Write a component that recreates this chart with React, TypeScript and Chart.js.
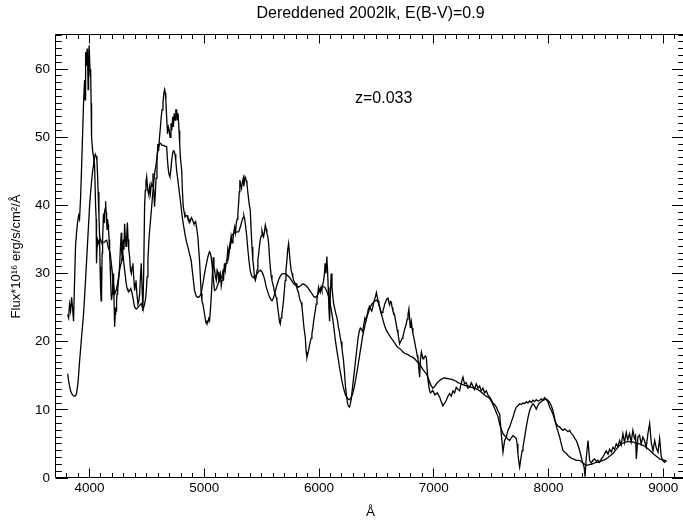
import React, { useEffect, useRef } from "react";
import { Chart, registerables } from "chart.js";

Chart.register(...registerables);

// Observed spectrum of SN 2002lk (wavelength Å, flux)
const observedSpectrum: number[][] = [
  [3809,24],[3818,23.5],[3826,25.5],[3835,24.5],[3844,26.5],[3852,25],[3861,23],[3870,29],[3878,34],[3887,36],
  [3896,37.5],[3905,38.5],[3913,38],[3922,41],[3930,45],[3939,50],[3948,55],[3957,58.4],[3962,55.5],[3966,62.5],
  [3970,61],[3975,60.5],[3979,63],[3983,62],[3988,57],[3992,60],[3997,63.5],[4001,63.5],[4006,59],[4010,60],
  [4014,55],[4018,50],[4027,48],[4036,47],[4044,46],[4053,40],[4058,38],[4061,31.5],[4066,34],[4070,35],
  [4079,34.5],[4088,35],[4092,31],[4096,28],[4101,26],[4105,27],[4110,33],[4114,35],[4122,38.8],[4127,37.5],
  [4131,39],[4136,39.5],[4140,40.6],[4145,39],[4149,37.8],[4153,36.5],[4157,38],[4162,37.2],[4166,36.3],[4171,35],
  [4175,33],[4180,31],[4184,29],[4188,27],[4192,26.1],[4197,27],[4201,28],[4206,30],[4210,29],[4215,25],
  [4219,22.2],[4224,24],[4228,25],[4232,24.5],[4236,26.1],[4240,27],[4245,27.5],[4253,29],[4262,31],[4270,34],
  [4277,36],[4281,33],[4285,32],[4290,34],[4295,35],[4300,33.5],[4306,37.3],[4312,35],[4318,34],[4324,35.5],
  [4330,37.5],[4336,35],[4342,33.5],[4350,32.4],[4357,30.5],[4365,30],[4372,31],[4378,31.5],[4385,29.5],[4393,27.5],
  [4400,28.5],[4405,29],[4413,27],[4422,25.5],[4430,26],[4437,27],[4444,29.5],[4451,31.5],[4458,28],[4465,24.6],
  [4472,30],[4480,40],[4486,42.2],[4492,43.5],[4498,44.2],[4504,43],[4510,42],[4517,41.5],[4524,42.7],[4531,41.8],
  [4538,43.2],[4545,42.8],[4553,44.7],[4560,42],[4567,39.8],[4574,42],[4580,44],[4588,46.5],[4595,49],[4602,48],
  [4610,50],[4618,51.5],[4625,53],[4632,54],[4640,55],[4648,56.5],[4655,57],[4660,56.5],[4665,55.5],[4672,53],
  [4680,50.5],[4687,51.5],[4695,51],[4702,50],[4710,52],[4717,51],[4725,53],[4731,51.5],[4738,53.5],[4745,52.5],
  [4752,54],[4759,54],[4766,52.5],[4772,53.5],[4780,51],[4786,49],[4792,47],[4803,45.2],[4810,42],[4817,39.8],
  [4825,39],[4832,38.3],[4842,38.5],[4850,38.5],[4858,38],[4866,38],[4874,37.5],[4880,37.8],[4888,38.2],[4895,38],
  [4903,37.6],[4910,37.3],[4918,37.4],[4925,37.6],[4935,36.5],[4944,35.4],[4952,33.5],[4959,31.9],[4966,29.5],[4973,27.1],
  [4980,26],[4988,25.5],[4995,24.8],[5002,24.1],[5010,23.2],[5017,22.7],[5024,23],[5031,22.9],[5039,23.4],[5046,23.1],
  [5055,25],[5064,27.5],[5071,30],[5078,32.4],[5084,31],[5090,30.5],[5097,29.5],[5105,29],[5112,30.5],[5120,30.2],
  [5127,28.8],[5133,29.5],[5140,30],[5148,28.2],[5155,29],[5162,30],[5169,29.5],[5176,31.5],[5183,30.5],[5190,31.5],
  [5197,32],[5205,33.5],[5212,32.5],[5220,34],[5227,33.8],[5234,35.4],[5242,34.5],[5250,35],[5257,36],[5265,36.8],
  [5272,36],[5280,37.5],[5287,38],[5293,38.8],[5300,40.5],[5305,42],[5310,43.7],[5318,43],[5325,42.5],[5333,43.5],
  [5340,44],[5345,42.8],[5350,43.5],[5355,44.2],[5360,44],[5366,43.6],[5372,43.2],[5379,42],[5386,41],[5393,40],
  [5401,39.3],[5408,36.5],[5416,33.9],[5423,32],[5430,31],[5437,29.5],[5445,29],[5452,29.5],[5460,30.5],[5467,32],
  [5474,32.9],[5481,34],[5488,34.9],[5495,35.5],[5503,36.3],[5510,35.8],[5517,35.4],[5525,36.2],[5532,37.1],[5539,36.5],
  [5546,35.9],[5553,35.5],[5561,34.4],[5568,32.5],[5575,31],[5582,29.8],[5590,29],[5597,28.5],[5604,28],[5611,27.4],
  [5618,27],[5626,26.5],[5633,26.1],[5640,25],[5648,24],[5655,23],[5662,22.6],[5669,23.5],[5676,24],[5684,25],
  [5691,26.1],[5698,27.5],[5705,29],[5712,30.5],[5720,31.9],[5727,33.5],[5735,34.4],[5742,33],[5750,31.5],[5757,30.5],
  [5765,30],[5771,29.5],[5778,29],[5786,28.8],[5793,28.5],[5800,28.5],[5808,27.8],[5815,27.5],[5822,27.1],[5829,26.5],
  [5836,26],[5844,25.8],[5851,25.1],[5858,24],[5866,22.5],[5873,21.5],[5880,20.7],[5888,18.5],[5895,17.7],[5902,18.2],
  [5910,18.8],[5917,19.5],[5924,20],[5931,20.5],[5938,21.2],[5946,22],[5953,23],[5960,23.8],[5967,24.5],[5975,25.5],
  [5982,26.1],[5989,27],[5996,28],[6003,27.5],[6010,27.2],[6018,28],[6025,27.5],[6032,28.3],[6040,29],[6047,30],
  [6053,31.5],[6060,30],[6068,32.5],[6074,30.5],[6080,28],[6086,25],[6092,23],[6099,27],[6106,30],[6113,28],
  [6121,26.5],[6128,25.5],[6135,25],[6145,24.2],[6155,23.6],[6162,23],[6170,22],[6177,21.5],[6184,20.7],[6192,20],
  [6200,19],[6206,18.2],[6213,17.3],[6222,15.5],[6230,13.5],[6240,12],[6250,10.8],[6258,10.5],[6265,10.4],[6272,10.8],
  [6280,11.5],[6290,13],[6300,14.5],[6310,16],[6320,17.5],[6330,19],[6340,20.5],[6350,21.5],[6360,22],[6370,21.8],
  [6380,21.5],[6390,22.5],[6400,23.5],[6410,23.2],[6420,24],[6430,24.8],[6440,25.2],[6450,24.8],[6460,24.5],[6470,25.2],
  [6480,26],[6490,26.5],[6500,27.2],[6508,26.5],[6515,26],[6522,25.5],[6528,25.1],[6536,24.5],[6543,24.1],[6550,24.3],
  [6557,24.6],[6565,25],[6572,25.5],[6579,25.8],[6586,26.1],[6593,26.3],[6600,26.5],[6608,25.8],[6615,25.4],[6622,25.9],
  [6630,25.8],[6637,25],[6644,24.5],[6652,24.2],[6659,23.9],[6666,23.2],[6673,22.5],[6680,21.8],[6688,21.2],[6695,20.4],
  [6702,19.7],[6710,20],[6717,20.2],[6724,20.5],[6731,20.7],[6738,21.3],[6746,21.8],[6753,22.2],[6760,22.6],[6768,23.3],
  [6775,24],[6783,24.8],[6789,23.5],[6795,22.1],[6800,22.6],[6804,23],[6811,22],[6818,21.2],[6826,20.6],[6833,20],
  [6840,19.3],[6848,18.7],[6855,18],[6862,17.5],[6870,16],[6877,14.8],[6883,17.3],[6892,18.5],[6899,18],[6906,17.5],
  [6913,17.6],[6920,17.8],[6928,17.9],[6935,17.7],[6942,16],[6950,14.3],[6957,13.4],[6964,12.8],[6971,12.5],[6978,12.6],
  [6986,12.7],[6993,12.8],[7010,12.2],[7030,12.5],[7051,11.9],[7065,11.2],[7080,10.6],[7095,11],[7109,11.4],[7123,12],
  [7138,12.4],[7152,12],[7167,12.8],[7181,12.5],[7196,13.3],[7210,13],[7225,12.8],[7240,14],[7254,14.8],[7268,13.8],
  [7283,14],[7297,13.2],[7312,13.3],[7326,14],[7341,13.5],[7355,13],[7370,13.8],[7385,13.2],[7399,13.5],[7414,12.8],
  [7428,13.2],[7443,12.5],[7457,12.8],[7472,12.2],[7486,11.9],[7500,11.5],[7515,11],[7530,10.8],[7545,10.4],[7560,9.8],
  [7574,9.4],[7588,6.5],[7603,3.8],[7617,5.5],[7632,6],[7646,7],[7661,7.5],[7675,8.2],[7690,8.9],[7705,9.8],
  [7719,10.4],[7733,10.6],[7748,10.9],[7762,10.8],[7777,11],[7791,10.9],[7806,11.2],[7820,11],[7835,11.3],[7850,11.1],
  [7864,11.4],[7878,11.2],[7893,11.5],[7908,11.3],[7922,11.4],[7937,11.6],[7950,11.4],[7965,11.8],[7980,11.5],[7994,11.2],
  [8009,10.4],[8024,9.9],[8038,9.4],[8053,8.5],[8067,8],[8082,7.6],[8097,7.5],[8111,7.2],[8126,7],[8140,7.2],
  [8155,7],[8170,6.8],[8184,7],[8199,6.5],[8213,6.3],[8228,5.8],[8242,5.5],[8257,4.8],[8271,4],[8286,3],
  [8300,2.1],[8310,1.6],[8318,0.2],[8329,3],[8344,5.5],[8358,2.6],[8372,2.2],[8387,2.6],[8401,2.8],[8416,2.4],
  [8430,2.6],[8445,2.3],[8460,2.8],[8474,3.1],[8489,3.6],[8503,4],[8518,3.5],[8532,4.2],[8547,3.8],[8561,4.5],
  [8575,4.2],[8590,5],[8604,4.6],[8619,5.5],[8633,4.8],[8648,6.5],[8662,5.2],[8677,6.7],[8690,5.6],[8706,6.5],
  [8720,5.3],[8735,7],[8749,5.8],[8758,6.2],[8765,2.8],[8778,6],[8793,6.3],[8807,5],[8822,6],[8836,5.5],
  [8851,4.5],[8866,6.5],[8881,8],[8895,5.2],[8910,4],[8925,5.5],[8939,4.4],[8954,3.8],[8968,5.8],[8982,3.1],
  [8997,2.5],[9011,2.3],[9026,2.5]
];

// Comparison (template) spectrum (wavelength Å, flux)
const templateSpectrum: number[][] = [
  [3810,15.3],[3818,14.2],[3826,13.5],[3835,12.8],[3844,12.4],[3857,12.1],[3870,12],[3879,12.1],[3887,12.4],[3900,14],
  [3913,17],[3930,20.5],[3948,24],[3962,28],[3975,32],[3988,36],[4001,40],[4010,42],[4018,43.5],[4027,45],
  [4036,46],[4043,47],[4050,47.5],[4058,47.2],[4065,46.5],[4070,44.5],[4075,42],[4082,38.5],[4088,35.5],[4094,35],
  [4100,34.7],[4115,34.6],[4130,34.6],[4140,34.8],[4150,34.9],[4158,34.3],[4165,33.7],[4172,33.5],[4180,33],[4190,31.5],
  [4200,30],[4210,28.2],[4220,27],[4232,27.5],[4245,28.5],[4254,29.5],[4262,30.5],[4270,31.2],[4277,31.5],[4284,32.2],
  [4291,32.7],[4298,31.8],[4306,30.5],[4313,29.5],[4320,28.5],[4328,27.8],[4335,27.5],[4347,27.4],[4360,27.8],[4370,27.2],
  [4378,26.5],[4385,25.8],[4393,25.1],[4407,24.8],[4420,25],[4435,25.3],[4451,25.6],[4458,25.2],[4465,24.8],[4472,25],
  [4480,25.5],[4488,26.3],[4495,27.5],[4502,29.5],[4509,32],[4515,34],[4520,35.5],[4530,37.5],[4540,39.5],[4550,41.5],
  [4560,43.5],[4570,45],[4580,46],[4590,47.3],[4600,48.5],[4610,49],[4620,49.1],[4632,48.8],[4645,48.8],[4658,48.7],
  [4672,48.6],[4680,46.5],[4687,45.2],[4694,44.5],[4701,44.2],[4708,45],[4716,46.6],[4723,47.5],[4730,48],[4737,48],
  [4745,47.5],[4752,46.5],[4760,45],[4768,44],[4775,43],[4782,42],[4790,41],[4800,39.5],[4808,38.3],[4815,37.5],
  [4825,36.5],[4835,35.5],[4846,34.6],[4857,33.9],[4870,33],[4886,31.9],[4900,29.8],[4915,27.5],[4930,26.7],[4944,26.5],
  [4958,26.6],[4973,27.1],[4988,28.5],[5002,30],[5017,31.3],[5031,32.4],[5039,32.9],[5046,33.2],[5053,33],[5060,32.4],
  [5068,31.3],[5075,30],[5082,28.7],[5089,27.5],[5100,27.6],[5110,28],[5120,28.5],[5135,29],[5151,29.5],[5165,30.2],
  [5180,31],[5195,31.7],[5210,32.4],[5218,33.5],[5225,34.5],[5233,35.2],[5240,35.6],[5255,35.9],[5270,36],[5285,36.1],
  [5300,36.1],[5310,36.6],[5320,37.2],[5330,37.8],[5338,38.2],[5345,38.5],[5352,38],[5360,37],[5370,35.5],[5380,33.5],
  [5390,31.8],[5400,30.5],[5410,29.8],[5420,29.5],[5432,29.4],[5445,29.6],[5460,30],[5475,30.3],[5490,30.5],[5505,30.2],
  [5520,29.5],[5530,28.8],[5540,28],[5555,27.2],[5570,26.5],[5580,26.2],[5590,26],[5600,26.3],[5610,26.8],[5620,27.5],
  [5635,28.4],[5650,29.2],[5665,29.7],[5680,30],[5700,30],[5720,29.8],[5740,29.5],[5760,29],[5780,28.5],[5800,28.2],
  [5820,28],[5840,28.2],[5860,28.5],[5880,28.3],[5900,28],[5920,27.5],[5940,27],[5955,26.6],[5970,26.5],[5985,26.8],
  [6000,27.5],[6015,27.9],[6030,28.1],[6050,28],[6065,27.5],[6080,26.8],[6090,26.2],[6105,24.8],[6118,23.5],[6130,22],
  [6140,20.5],[6150,19.3],[6160,18.2],[6170,17.2],[6180,16.1],[6190,15.1],[6200,14.2],[6210,13.4],[6220,12.8],[6230,12.2],
  [6240,11.9],[6252,11.6],[6265,11.5],[6278,11.7],[6290,12.2],[6305,13.2],[6320,14.5],[6335,16],[6350,17.6],[6365,19.2],
  [6380,20.8],[6400,22.4],[6420,23.8],[6440,24.8],[6460,25.5],[6480,25.9],[6500,26.1],[6515,25.8],[6528,25.1],[6540,24.3],
  [6557,23.2],[6572,22.3],[6586,21.7],[6600,21.3],[6615,20.9],[6630,20.5],[6644,20.2],[6660,19.8],[6675,19.4],[6690,19.1],
  [6702,19],[6716,18.8],[6731,18.5],[6746,18.3],[6760,18.2],[6775,18.1],[6790,17.9],[6804,17.8],[6818,17.7],[6833,17.5],
  [6848,17.2],[6862,17],[6877,16.8],[6891,16.3],[6906,15.9],[6920,15.6],[6935,15.3],[6950,14.7],[6964,14.1],[6978,13.5],
  [6993,13.2],[7008,13.4],[7022,13.8],[7036,14.1],[7051,14.3],[7065,14.5],[7080,14.6],[7095,14.7],[7109,14.6],[7123,14.6],
  [7138,14.5],[7152,14.5],[7167,14.4],[7181,14.3],[7196,14.2],[7210,14],[7225,13.9],[7239,13.8],[7254,13.7],[7270,13.6],
  [7285,13.5],[7300,13.5],[7315,13.4],[7330,13.3],[7350,13.2],[7365,13.1],[7380,13],[7400,12.8],[7420,12.5],[7440,12.2],
  [7455,12],[7470,11.9],[7485,11.7],[7500,11.3],[7515,10.8],[7530,10.2],[7545,9.6],[7560,9],[7570,8.2],[7580,7.5],
  [7592,7],[7603,6.5],[7617,6.2],[7632,6],[7646,5.7],[7661,5.5],[7675,5.9],[7690,6.2],[7705,6],[7719,5.8],
  [7726,5],[7733,3.6],[7740,2.5],[7748,1.6],[7755,2.4],[7762,3.2],[7770,4],[7777,4.5],[7790,5.8],[7806,7.5],
  [7820,8.8],[7835,9.9],[7850,10.5],[7864,10.9],[7878,10.6],[7893,10.1],[7906,10.6],[7920,11],[7935,11.2],[7950,11.4],
  [7965,11.5],[7980,11.6],[7994,11.4],[8009,11.1],[8024,10.6],[8038,9.9],[8050,9],[8062,8],[8075,7.2],[8086,6.6],
  [8097,6],[8111,5],[8126,4],[8140,3.8],[8155,3.6],[8170,3.3],[8184,3.1],[8200,2.9],[8213,2.8],[8228,2.7],
  [8242,2.6],[8257,2.6],[8271,2.6],[8286,2.4],[8300,2.2],[8315,2],[8329,1.9],[8343,1.9],[8358,2],[8372,2],
  [8387,2.1],[8401,2.2],[8416,2.3],[8430,2.3],[8445,2.4],[8460,2.5],[8474,2.6],[8489,2.7],[8503,2.8],[8518,3],
  [8532,3.2],[8547,3.4],[8561,3.6],[8575,3.9],[8590,4.2],[8604,4.5],[8619,4.8],[8633,5],[8648,5.1],[8662,5.2],
  [8677,5.3],[8692,5.35],[8706,5.35],[8720,5.3],[8735,5.3],[8750,5.2],[8764,5.1],[8778,5.05],[8793,5],[8808,4.9],
  [8822,4.8],[8837,4.65],[8851,4.5],[8866,4.3],[8880,4.1],[8895,3.85],[8910,3.6],[8924,3.4],[8939,3.2],[8953,3],
  [8968,2.8],[8982,2.7],[8997,2.65],[9011,2.6],[9026,2.5]
];

const xTickValues = [4000, 5000, 6000, 7000, 8000, 9000];
const yTickValues = [0, 10, 20, 30, 40, 50, 60];
const xRange = [3708, 9189];
const yRange = [0, 65];
const xMinorStep = 100;
const yMinorStep = 1;

const titleText = "Dereddened 2002lk, E(B-V)=0.9";
const xTitleText = "Å";
const yTitleText = "Flux*10¹⁶ erg/s/cm²/Å";
const annotationText = "z=0.033";

const FONT = "'Liberation Sans', Helvetica, Arial, sans-serif";

const idlFramePlugin = {
  id: "idlFrame",
  afterDatasetsDraw(chart: any) {
    const { ctx, chartArea, scales } = chart;
    const xs = scales.x;
    const ys = scales.y;
    const L = Math.round(chartArea.left) - 0.5;
    const R = Math.round(chartArea.right) - 0.5;
    const T = Math.round(chartArea.top) - 0.5;
    const B = Math.round(chartArea.bottom) - 0.5;
    ctx.save();
    ctx.strokeStyle = "#000";
    ctx.lineWidth = 1;
    ctx.beginPath();
    ctx.rect(L, T, R - L, B - T);
    const xStart = Math.ceil(xs.min / xMinorStep) * xMinorStep;
    for (let v = xStart; v <= xs.max; v += xMinorStep) {
      const px = Math.floor(xs.getPixelForValue(v)) + 0.5;
      const major = v % 1000 === 0;
      const len = major ? 9 : 4.5;
      ctx.moveTo(px, B);
      ctx.lineTo(px, B - len);
      ctx.moveTo(px, T);
      ctx.lineTo(px, T + len);
    }
    for (let v = ys.min; v <= ys.max; v += yMinorStep) {
      const py = Math.floor(ys.getPixelForValue(v)) + 0.5;
      const major = v % 10 === 0;
      const len = major ? 12.5 : 6.3;
      ctx.moveTo(L, py);
      ctx.lineTo(L + len, py);
      ctx.moveTo(R, py);
      ctx.lineTo(R - len, py);
    }
    ctx.stroke();
    ctx.fillStyle = "#000";
    ctx.font = `16px ${FONT}`;
    ctx.textAlign = "left";
    ctx.textBaseline = "middle";
    ctx.fillText(annotationText, 355, 99);
    ctx.restore();
  },
};

export default function App() {
  const canvasRef = useRef<HTMLCanvasElement | null>(null);

  useEffect(() => {
    const canvas = canvasRef.current;
    if (!canvas) return;
    const chart = new Chart(canvas, {
      type: "line",
      data: {
        datasets: [
          {
            label: "SN 2002lk",
            data: observedSpectrum.map((p) => ({ x: p[0], y: p[1] })),
            borderColor: "#000",
            borderWidth: 1.3,
            pointRadius: 0,
            fill: false,
            tension: 0,
          },
          {
            label: "Template",
            data: templateSpectrum.map((p) => ({ x: p[0], y: p[1] })),
            borderColor: "#000",
            borderWidth: 1.3,
            pointRadius: 0,
            fill: false,
            tension: 0,
          },
        ],
      },
      options: {
        animation: false,
        responsive: false,
        devicePixelRatio: 1,
        events: [],
        layout: { padding: { left: 0, right: 1, top: 0, bottom: 0 } },
        plugins: {
          legend: { display: false },
          tooltip: { enabled: false },
          title: {
            display: true,
            text: titleText,
            color: "#000",
            fullSize: false,
            font: { family: FONT, size: 16, weight: "normal" },
            padding: { top: 4, bottom: 11.8 },
          },
        },
        scales: {
          x: {
            type: "linear",
            min: xRange[0],
            max: xRange[1],
            afterBuildTicks: (s: any) => {
              s.ticks = xTickValues.map((v) => ({ value: v }));
            },
            afterFit: (s: any) => {
              s.height = 44;
            },
            grid: { display: false, drawTicks: false },
            border: { display: false },
            ticks: {
              color: "#000",
              font: { family: FONT, size: 13.5 },
              padding: 2,
              maxRotation: 0,
              autoSkip: false,
              callback: (v: any) => String(v),
            },
            title: {
              display: true,
              text: xTitleText,
              color: "#000",
              font: { family: FONT, size: 13.5 },
              padding: { top: 0, bottom: 2 },
            },
          },
          y: {
            type: "linear",
            min: yRange[0],
            max: yRange[1],
            afterBuildTicks: (s: any) => {
              s.ticks = yTickValues.map((v) => ({ value: v }));
            },
            afterFit: (s: any) => {
              s.width = 56;
            },
            grid: { display: false, drawTicks: false },
            border: { display: false },
            ticks: {
              color: "#000",
              font: { family: FONT, size: 13.5 },
              padding: 6,
              autoSkip: false,
              callback: (v: any) => String(v),
            },
            title: {
              display: true,
              text: yTitleText,
              color: "#000",
              font: { family: FONT, size: 13 },
              padding: { top: 9, bottom: 0 },
            },
          },
        },
      },
      plugins: [idlFramePlugin],
    } as any);
    return () => chart.destroy();
  }, []);

  return (
    <div
      style={{
        position: "fixed",
        left: 0,
        top: 0,
        width: 683,
        height: 522,
        overflow: "hidden",
        background: "#fff",
      }}
    >
      <canvas
        ref={canvasRef}
        width={686}
        height={522}
        style={{ width: 686, height: 522, display: "block" }}
      />
    </div>
  );
}
